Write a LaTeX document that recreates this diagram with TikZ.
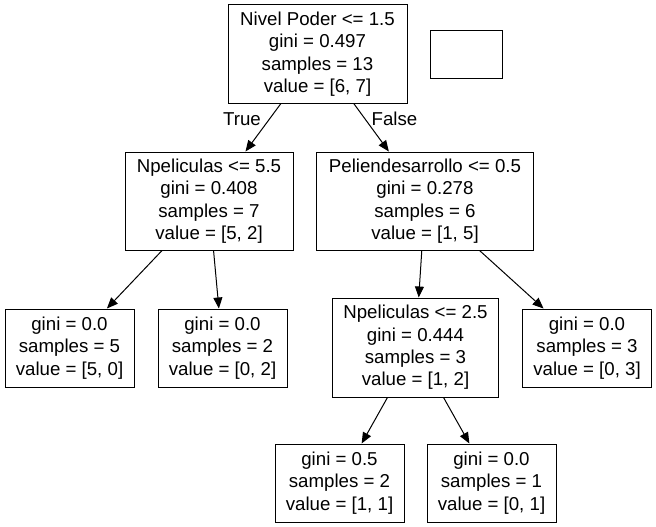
\documentclass[tikz,border=0pt]{standalone}
\usepackage{fontspec}
\setmainfont{Liberation Sans}
\usetikzlibrary{arrows.meta}
\begin{document}
\begin{tikzpicture}[
      x = 1pt, y = -1pt,
      font = \fontsize{18.67}{22.4}\selectfont,
      split/.style = {
        rectangle,
        draw = black, line width = 1pt,
        fill = white,
        align = center,
        inner sep = 0,
        minimum height = 98pt,
      },
      leaf/.style = {
        rectangle,
        draw = black, line width = 1pt,
        fill = white,
        align = center,
        inner sep = 0,
        minimum width = 129pt,
        minimum height = 78pt,
      },
      edge/.style = {
        draw = black, line width = 1pt,
        -{Triangle[length = 11pt, width = 9pt]},
      },
      lbl/.style = {
        inner sep = 0,
      }
    ]
    \useasboundingbox (0,0) rectangle (656,527);
    \node[split, minimum width = 179pt] (root) at (317.5,54) {Nivel Poder <= 1.5\\gini = 0.497\\samples = 13\\value = [6, 7]};
    \node[rectangle, draw = black, line width = 1pt, minimum width = 72pt, minimum height = 48pt] (blank) at (466.7,54.7) {};
    \node[split, minimum width = 168pt] (npelA) at (209,201) {Npeliculas <= 5.5\\gini = 0.408\\samples = 7\\value = [5, 2]};
    \node[split, minimum width = 217pt] (peli) at (425,201) {Peliendesarrollo <= 0.5\\gini = 0.278\\samples = 6\\value = [1, 5]};
    \node[leaf] (leafA) at (69.5,348) {gini = 0.0\\samples = 5\\value = [5, 0]};
    \node[leaf] (leafB) at (222.5,348) {gini = 0.0\\samples = 2\\value = [0, 2]};
    \node[split, minimum width = 166pt, minimum height = 99pt] (npelB) at (415.5,347.5) {Npeliculas <= 2.5\\gini = 0.444\\samples = 3\\value = [1, 2]};
    \node[leaf] (leafC) at (587,348) {gini = 0.0\\samples = 3\\value = [0, 3]};
    \node[leaf] (leafD) at (339.5,483) {gini = 0.5\\samples = 2\\value = [1, 1]};
    \node[leaf] (leafE) at (491.5,483) {gini = 0.0\\samples = 1\\value = [0, 1]};
    \node[lbl] (true) at (242,119) {True};
    \node[lbl] (false) at (394.5,119) {False};
    \draw[edge] (root) -- (npelA);
    \draw[edge] (root) -- (peli);
    \draw[edge] (npelA) -- (leafA);
    \draw[edge] (npelA) -- (leafB);
    \draw[edge] (peli) -- (npelB);
    \draw[edge] (peli) -- (leafC);
    \draw[edge] (npelB) -- (leafD);
    \draw[edge] (npelB) -- (leafE);
  \end{tikzpicture}
\end{document}
